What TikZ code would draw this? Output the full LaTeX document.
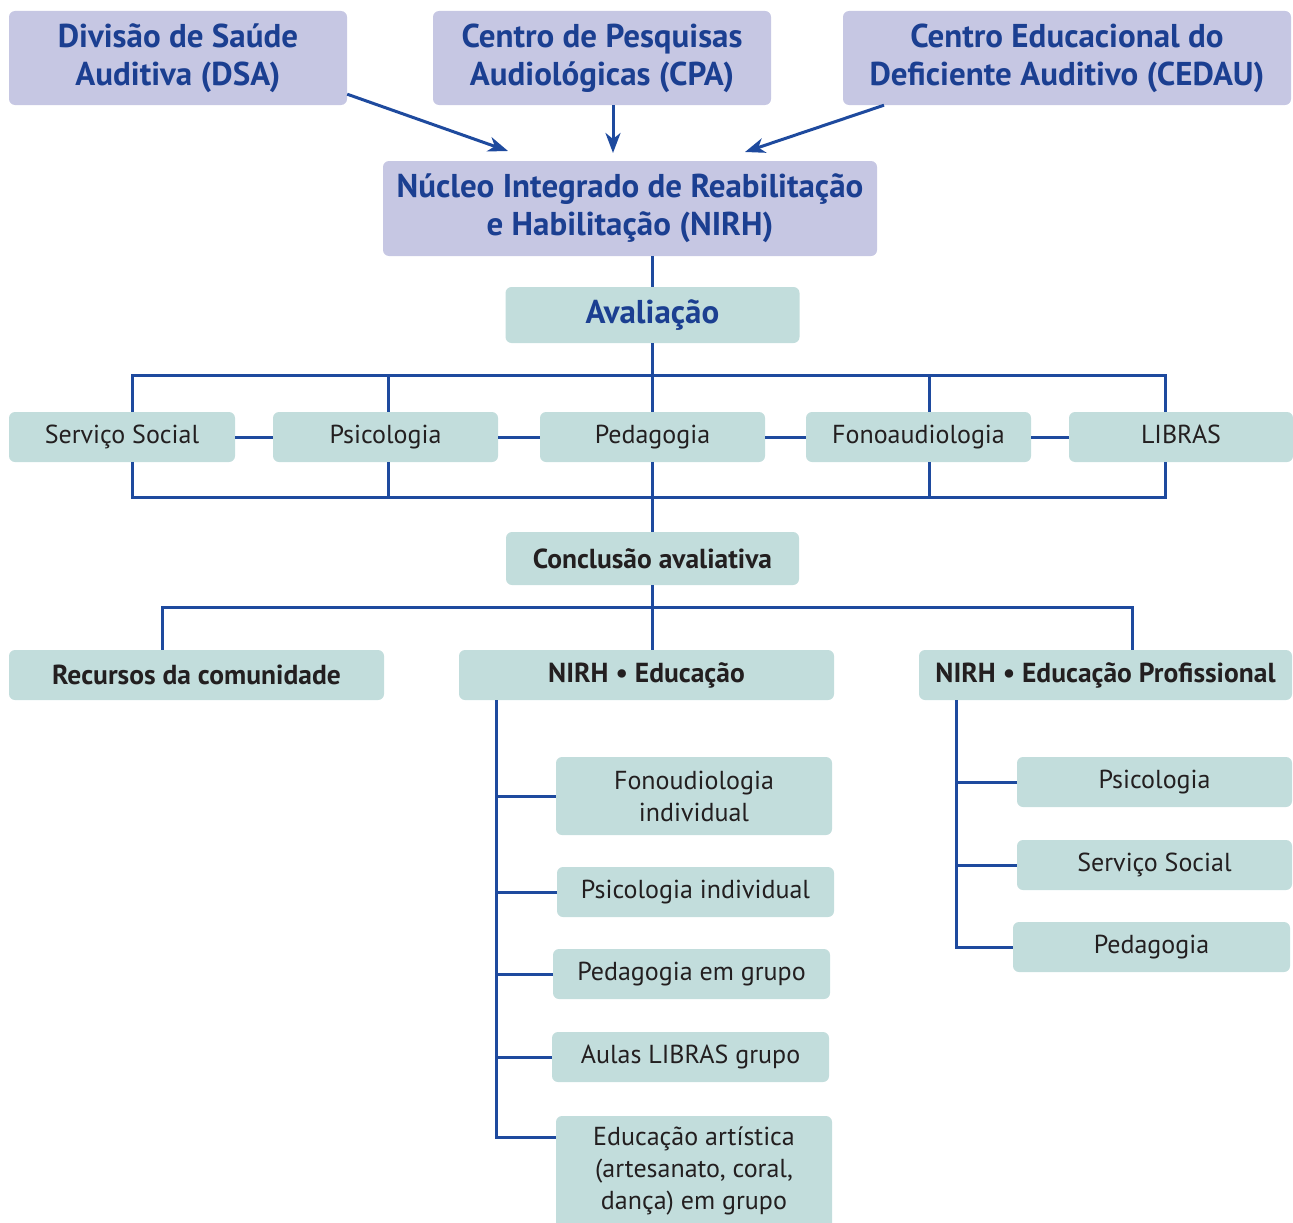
\documentclass[tikz,border=0pt]{standalone}
\usepackage{fontspec}
\setmainfont{PT Sans}
\usetikzlibrary{arrows.meta}
\definecolor{lavbox}{HTML}{C6C7E3}
\definecolor{tealbox}{HTML}{C2DDDC}
\definecolor{lineblue}{HTML}{1E4A9E}
\definecolor{txtblue}{HTML}{1B3F91}
\definecolor{txtdark}{HTML}{231F20}
\begin{document}
\begin{tikzpicture}[x=1pt,y=-1pt,
  box/.style={rounded corners=6pt, inner sep=0pt, align=center, fill=tealbox, text=txtdark,
    font=\fontsize{26}{32}\selectfont},
  topbox/.style={box, fill=lavbox, text=txtblue, font=\bfseries\fontsize{33}{38}\selectfont},
  boldbox/.style={box, font=\bfseries\fontsize{27.5}{32}\selectfont},
  ln/.style={draw=lineblue, line width=3pt},
  arr/.style={ln, -{Stealth[length=20pt,width=15pt,inset=6pt]}}]
\useasboundingbox (0,0) rectangle (1293,1223);
% top boxes
\node[topbox, minimum width=338pt, minimum height=94pt] (dsa) at (178,58) {Divisão de Saúde\\Auditiva (DSA)};
\node[topbox, minimum width=338pt, minimum height=94pt] (cpa) at (602,58) {Centro de Pesquisas\\Audiológicas (CPA)};
\node[topbox, minimum width=448pt, minimum height=94pt] (cedau) at (1067,58) {Centro Educacional do\\Deficiente Auditivo (CEDAU)};
\node[topbox, minimum width=494pt, minimum height=95pt] (nirh) at (630,208.5) {Núcleo Integrado de Reabilitação\\e Habilitação (NIRH)};
\coordinate (a1) at (508,151);
\coordinate (a2) at (613,153);
\coordinate (a3) at (745,152);
\draw[arr] ([yshift=11pt]dsa.south east) -- (a1);
\draw[arr] ([xshift=11pt]cpa.south) -- (a2);
\draw[arr] ([xshift=-183pt]cedau.south) -- (a3);
% avaliacao
\node[box, text=txtblue, font=\bfseries\fontsize{33}{38}\selectfont, minimum width=294pt, minimum height=56pt] (aval) at (652.5,315) {Avaliação};
% row
\node[box, minimum width=226pt, minimum height=50pt] (serv) at (122,437) {Serviço Social};
\node[box, minimum width=225pt, minimum height=50pt] (psi) at (385.5,437) {Psicologia};
\node[box, minimum width=225pt, minimum height=50pt] (ped) at (652.5,437) {Pedagogia};
\node[box, minimum width=225pt, minimum height=50pt] (fono) at (918.5,437) {Fonoaudiologia};
\node[box, minimum width=224pt, minimum height=50pt] (libras) at (1181,437) {\vphantom{g}LIBRAS};
\coordinate (bt) at (0,375);
\coordinate (bb) at (0,497);
\draw[ln] (aval.north |- nirh.south) -- (aval.north);
\draw[ln] (aval.south) -- (ped.north);
\draw[ln] ([xshift=10pt]serv.north) -- ([xshift=10pt]serv.north |- bt) -- ([xshift=-16pt]libras.north |- bt) -- ([xshift=-16pt]libras.north);
\draw[ln] ([xshift=2.5pt]psi.north) -- ([xshift=2.5pt]psi.north |- bt);
\draw[ln] ([xshift=10.5pt]fono.north) -- ([xshift=10.5pt]fono.north |- bt);
\draw[ln] ([xshift=10pt]serv.south) -- ([xshift=10pt]serv.south |- bb) -- ([xshift=-16pt]libras.south |- bb) -- ([xshift=-16pt]libras.south);
\draw[ln] ([xshift=2.5pt]psi.south) -- ([xshift=2.5pt]psi.south |- bb);
\draw[ln] ([xshift=10.5pt]fono.south) -- ([xshift=10.5pt]fono.south |- bb);
\draw[ln] (serv.east) -- (psi.west);
\draw[ln] (psi.east) -- (ped.west);
\draw[ln] (ped.east) -- (fono.west);
\draw[ln] (fono.east) -- (libras.west);
% conclusao
\node[boldbox, minimum width=293pt, minimum height=53pt] (concl) at (652.5,558.5) {Conclusão avaliativa};
\draw[ln] (ped.south) -- (concl.north);
\node[boldbox, minimum width=375pt, minimum height=50pt] (rec) at (196.5,675) {Recursos da comunidade};
\node[boldbox, minimum width=375pt, minimum height=50pt] (ned) at (646.5,675) {NIRH • Educação};
\node[boldbox, minimum width=373pt, minimum height=50pt] (nep) at (1105.5,675) {NIRH • Educação Profissional};
\coordinate (cb) at (0,607);
\draw[ln] (concl.south) -- (concl.south |- ned.north);
\draw[ln] ([xshift=-34.5pt]rec.north) -- ([xshift=-34.5pt]rec.north |- cb) -- ([xshift=26.5pt]nep.north |- cb) -- ([xshift=26.5pt]nep.north);
% left tree
\node[box, minimum width=276pt, minimum height=78pt] (fi) at (694,796) {Fonoudiologia\\individual};
\node[box, minimum width=277pt, minimum height=50pt] (pi) at (695.5,892) {Psicologia individual};
\node[box, minimum width=277pt, minimum height=50pt] (pg) at (691.5,974) {Pedagogia em grupo};
\node[box, minimum width=277pt, minimum height=50pt] (al) at (690.5,1057) {Aulas LIBRAS grupo};
\node[box, minimum width=276pt, minimum height=116pt] (ea) at (694,1174) {};
\node[font=\fontsize{26}{32}\selectfont, text=txtdark, align=center, anchor=north, inner sep=0pt] (eat) at ([yshift=-11pt]ea.north) {Educação artística\\(artesanato, coral,\\dança) em grupo};
\coordinate (eab) at ([yshift=-22pt]ea.north west);
\coordinate (lt) at ([xshift=38pt]ned.south west);
\coordinate (rt) at ([xshift=38pt]nep.south west);
\draw[ln] (lt) |- (eab);
\draw[ln] (fi.west) -- (fi.west -| lt);
\draw[ln] (pi.west) -- (pi.west -| lt);
\draw[ln] (pg.west) -- (pg.west -| lt);
\draw[ln] (al.west) -- (al.west -| lt);
% right tree
\node[box, minimum width=275pt, minimum height=50pt] (rp) at (1154.5,782) {Psicologia};
\node[box, minimum width=275pt, minimum height=50pt] (rs) at (1154.5,865) {Serviço Social};
\node[box, minimum width=277pt, minimum height=50pt] (rg) at (1151.5,947) {Pedagogia};
\draw[ln] (rt) |- (rg.west);
\draw[ln] (rp.west) -- (rp.west -| rt);
\draw[ln] (rs.west) -- (rs.west -| rt);
\end{tikzpicture}
\end{document}
